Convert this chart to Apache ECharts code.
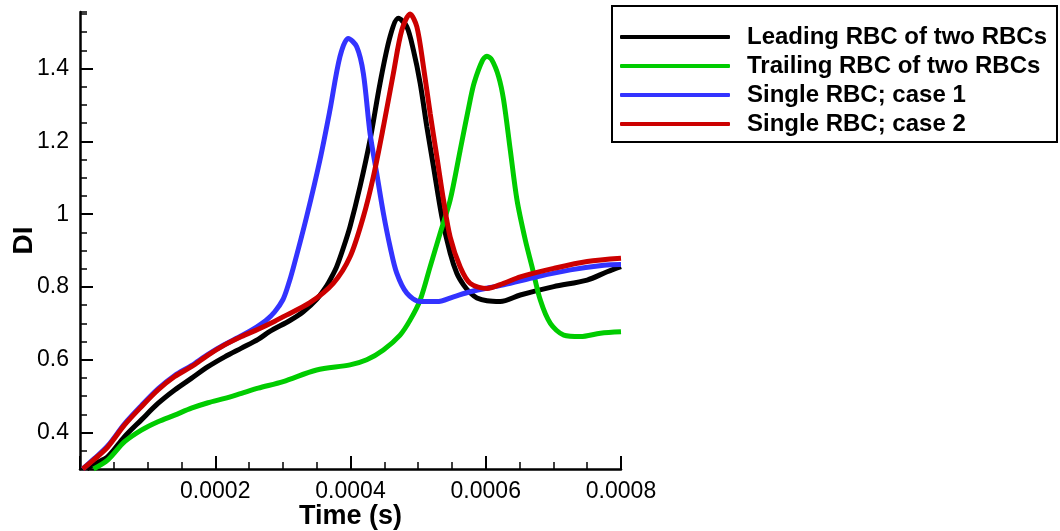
<!DOCTYPE html>
<html>
<head>
<meta charset="utf-8">
<script src="https://cdn.jsdelivr.net/npm/echarts@6/dist/echarts.min.js"></script>
<style>
html,body{margin:0;padding:0;background:#fff;}
#chart{width:1060px;height:531px;}
</style>
</head>
<body>
<div id="chart"></div>
<script>
// ---- data (time in s, DI) ----
const seriesNames = ['Leading RBC of two RBCs', 'Trailing RBC of two RBCs', 'Single RBC; case 1', 'Single RBC; case 2'];
const seriesColors = ['#000000', '#00cc00', '#3333ff', '#cc0000'];

const leadingRBC = [
  [0.00001,0.300],[0.0000215,0.314],[0.0000412,0.334],[0.0000659,0.389],[0.0000907,0.435],
  [0.0001153,0.480],[0.00014,0.517],[0.0001647,0.549],[0.0001893,0.581],[0.000214,0.608],
  [0.0002388,0.632],[0.0002634,0.656],[0.0002807,0.678],[0.0003104,0.708],[0.0003301,0.732],
  [0.0003499,0.766],[0.0003647,0.803],[0.000372,0.827],[0.0003796,0.856],[0.000389,0.905],
  [0.0003993,0.966],[0.0004141,1.076],
  [0.0004289,1.204],[0.0004437,1.360],[0.0004585,1.488],[0.0004708,1.538],[0.0004833,1.515],
  [0.000493,1.451],[0.000503,1.360],[0.0005129,1.240],[0.0005227,1.131],[0.0005351,0.993],
  [0.0005474,0.893],[0.0005572,0.838],[0.0005671,0.806],[0.000577,0.784],[0.000587,0.770],[0.0006018,0.762],
  [0.0006215,0.760],[0.0006511,0.778],[0.0007005,0.801],[0.0007499,0.819],[0.0007796,0.842],
  [0.0008,0.856]
];
const trailingRBC = [
  [0.00002,0.300],[0.0000412,0.325],[0.0000659,0.375],[0.0000907,0.407],[0.0001153,0.430],
  [0.00014,0.448],[0.0001647,0.467],[0.0001893,0.482],[0.000214,0.494],[0.0002388,0.508],
  [0.0002634,0.522],[0.0003004,0.540],[0.0003499,0.572],[0.0003993,0.586],[0.000424,0.600],
  [0.0004486,0.627],[0.0004733,0.668],[0.0004881,0.709],[0.000503,0.764],[0.0005178,0.856],
  [0.0005326,0.948],[0.0005474,1.039],[0.0005622,1.176],[0.000577,1.314],[0.000583,1.362],
  [0.000595,1.422],[0.0006018,1.434],[0.000609,1.424],[0.000619,1.378],[0.0006264,1.314],
  [0.0006363,1.176],[0.0006462,1.039],
  [0.0006585,0.929],[0.0006684,0.856],[0.0006807,0.764],[0.0006955,0.700],[0.0007153,0.668],
  [0.00074,0.664],[0.0007696,0.673],[0.0008,0.677]
];
const singleCase1 = [
  [0.000004,0.300],[0.0000215,0.329],[0.0000412,0.364],[0.0000659,0.424],[0.0000907,0.474],
  [0.0001153,0.520],[0.00014,0.557],[0.0001647,0.584],[0.0001893,0.615],[0.000214,0.642],
  [0.0002388,0.666],[0.000261,0.690],[0.000275,0.708],[0.000288,0.732],[0.0003,0.765],
  [0.000307,0.800],[0.0003153,0.852],
  [0.0003351,0.993],[0.0003548,1.149],[0.0003696,1.286],[0.0003844,1.433],[0.0003967,1.483],
  [0.0004092,1.460],[0.000419,1.387],[0.0004289,1.222],[0.0004388,1.112],[0.0004486,1.003],
  [0.0004585,0.911],[0.0004684,0.838],[0.0004833,0.783],[0.000503,0.760],[0.0005277,0.760],
  [0.0005523,0.773],[0.000577,0.787],[0.0006264,0.806],[0.0006758,0.828],[0.0007252,0.847],
  [0.0007745,0.860],[0.0008,0.862]
];
const singleCase2 = [
  [0.000004,0.300],[0.0000215,0.327],[0.0000412,0.361],[0.0000659,0.421],[0.0000907,0.471],
  [0.0001153,0.517],[0.00014,0.554],[0.0001647,0.581],[0.0001893,0.613],[0.000214,0.641],
  [0.0002388,0.664],[0.0002634,0.684],[0.0002881,0.706],[0.0003,0.718],[0.00034,0.757],
  [0.0003745,0.810],[0.0003993,0.883],[0.000419,0.993],[0.0004338,1.103],[0.0004486,1.240],
  [0.0004634,1.387],[0.0004759,1.506],[0.0004881,1.550],[0.0004981,1.515],[0.0005079,1.405],
  [0.0005178,1.277],[0.0005277,1.158],[0.0005375,1.039],[0.0005474,0.937],[0.0005622,0.855],
  [0.000577,0.810],[0.0006018,0.796],[0.0006264,0.810],[0.0006511,0.828],[0.0007005,0.851],
  [0.0007499,0.870],[0.0008,0.879]
];

const yMajorTicks = [0.4, 0.6, 0.8, 1.0, 1.2, 1.4];
const xTickLabels = ['0.0002', '0.0004', '0.0006', '0.0008'];

const FONT = '"Liberation Sans", Arial, Helvetica, sans-serif';
const allData = [leadingRBC, trailingRBC, singleCase1, singleCase2];

const chart = echarts.init(document.getElementById('chart'), null, {renderer: 'canvas'});
const option = {
  animation: false,
  backgroundColor: '#ffffff',
  grid: {left: 80, right: 439, top: 12, bottom: 62, containLabel: false, outerBoundsMode: 'none'},
  legend: {
    orient: 'vertical',
    left: 612, top: 6,
    padding: [19, 10, 6, 8],
    borderColor: '#000', borderWidth: 2,
    backgroundColor: '#fff',
    itemWidth: 110, itemHeight: 4, itemGap: 5,
    icon: 'roundRect',
    data: seriesNames,
    textStyle: {fontFamily: FONT, fontSize: 24, fontWeight: 'bold', color: '#000', padding: [0,0,0,12]}
  },
  xAxis: {
    type: 'value', min: 0, max: 0.0008, interval: 0.0002,
    name: 'Time (s)', nameLocation: 'middle', nameGap: 34, nameMoveOverlap: false,
    nameTextStyle: {fontFamily: FONT, fontSize: 27, fontWeight: 'bold', color: '#000'},
    axisLine: {show: true, onZero: false, lineStyle: {color: '#000', width: 2.5}},
    axisTick: {show: true, inside: true, length: 13, lineStyle: {color: '#000', width: 2}},
    minorTick: {show: true, splitNumber: 4, length: 7, lineStyle: {color: '#000', width: 1.5}},
    splitLine: {show: false},
    axisLabel: {
      fontFamily: FONT, fontSize: 23, color: '#000', margin: 11,
      formatter: function (v) {
        const s = v.toFixed(4);
        return xTickLabels.indexOf(s) >= 0 ? s : '';
      }
    }
  },
  yAxis: [
    {
      type: 'value', min: 0.3, max: 1.5555,
      name: 'DI', nameLocation: 'middle', nameGap: 42, nameRotate: 90, nameMoveOverlap: false,
      nameTextStyle: {fontFamily: FONT, fontSize: 28, fontWeight: 'bold', color: '#000'},
      axisLine: {show: true, onZero: false, lineStyle: {color: '#000', width: 2.5}},
      axisTick: {show: true, inside: true, length: 13, customValues: yMajorTicks, lineStyle: {color: '#000', width: 2}},
      axisLabel: {
        fontFamily: FONT, fontSize: 23, color: '#000', margin: 11,
        customValues: yMajorTicks,
        formatter: function (v) { return String(Math.round(v * 10) / 10); }
      },
      splitLine: {show: false}
    },
    {
      type: 'value', min: 0.3, max: 1.5555, interval: 0.05, position: 'left',
      axisLine: {show: false},
      axisTick: {show: true, inside: true, length: 7, lineStyle: {color: '#000', width: 1.5}},
      axisLabel: {show: false},
      splitLine: {show: false}
    }
  ],
  series: allData.map(function (d, i) {
    return {
      name: seriesNames[i], type: 'line', data: d,
      yAxisIndex: 0,
      showSymbol: false, symbol: 'none',
      smooth: 0.3,
      color: seriesColors[i],
      lineStyle: {color: seriesColors[i], width: 5},
      z: 2 + i
    };
  })
};
chart.setOption(option);
</script>
</body>
</html>
